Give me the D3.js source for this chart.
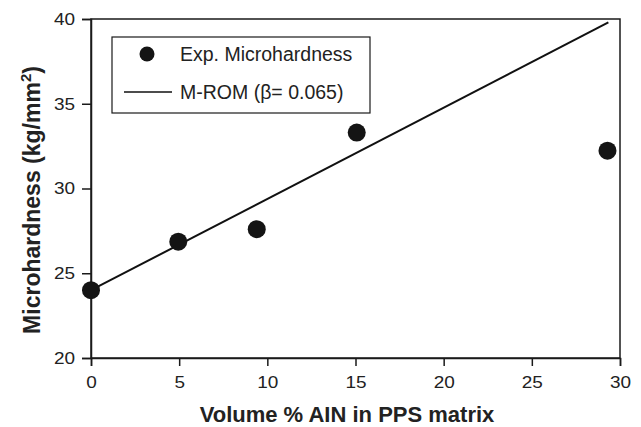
<!DOCTYPE html>
<html>
<head>
<meta charset="utf-8">
<script src="https://cdn.jsdelivr.net/npm/d3@7"></script>
<style>
  html, body { margin: 0; padding: 0; background: #fff; }
  svg { display: block; font-family: "Liberation Sans", Arial, Helvetica, sans-serif; }
</style>
</head>
<body>
<svg id="chart" width="641" height="427"></svg>
<script>
// Data
const volumePct = [0, 4.95, 9.4, 15.07, 29.29];
const microhardness = [24.0, 26.86, 27.6, 33.3, 32.23];
const mromX = [0, 29.34];
const mromY = [24.0, 39.8];
const xTicks = [0, 5, 10, 15, 20, 25, 30];
const yTicks = [20, 25, 30, 35, 40];
const legendLabels = ["Exp. Microhardness", "M-ROM (\u03B2= 0.065)"];

const svg = d3.select("#chart");
const mLeft = 91, mRight = 620, mTop = 19, mBottom = 358;
const x = d3.scaleLinear().domain([0, 30]).range([mLeft, mRight]);
const y = d3.scaleLinear().domain([20, 40]).range([mBottom, mTop]);
const ink = "#1a1a1a";
const sx = 1.15; // horizontal stretch of tick labels seen in the reference

// frame
svg.append("rect").attr("x", mLeft).attr("y", mTop)
  .attr("width", mRight - mLeft).attr("height", mBottom - mTop)
  .attr("fill", "none").attr("stroke", ink).attr("stroke-width", 1.5);

// axes
const xAxis = svg.append("g").attr("transform", `translate(0,${mBottom})`)
  .call(d3.axisBottom(x).tickValues(xTicks).tickSize(8).tickPadding(10).tickFormat(d3.format("d")));
const yAxis = svg.append("g").attr("transform", `translate(${mLeft},0)`)
  .call(d3.axisLeft(y).tickValues(yTicks).tickSize(9).tickPadding(7).tickFormat(d3.format("d")));
[xAxis, yAxis].forEach(g => {
  g.select(".domain").attr("stroke", ink).attr("stroke-width", 1.5);
  g.selectAll(".tick line").attr("stroke", ink).attr("stroke-width", 1.5);
  g.selectAll(".tick text").attr("fill", "#222").style("font-size", "16.5px")
    .style("font-family", "'Liberation Sans', Arial, sans-serif");
});
xAxis.selectAll(".tick text").attr("transform", `scale(${sx},1)`);
yAxis.selectAll(".tick text").each(function() {
  const t = d3.select(this);
  t.attr("x", +t.attr("x") / sx).attr("transform", `scale(${sx},1)`);
});

// M-ROM line
const line = d3.line().x(d => x(d[0])).y(d => y(d[1]));
svg.append("path").datum(mromX.map((v, i) => [v, mromY[i]]))
  .attr("d", line).attr("fill", "none").attr("stroke", "#111").attr("stroke-width", 2);

// points
svg.selectAll("circle.pt").data(volumePct.map((v, i) => [v, microhardness[i]]))
  .enter().append("circle").attr("class", "pt")
  .attr("cx", d => x(d[0])).attr("cy", d => y(d[1])).attr("r", 9).attr("fill", "#141414");

// legend
const lg = svg.append("g");
lg.append("rect").attr("x", 112).attr("y", 37).attr("width", 258).attr("height", 76)
  .attr("fill", "#fff").attr("stroke", ink).attr("stroke-width", 1.2);
lg.append("circle").attr("cx", 147).attr("cy", 54).attr("r", 7.5).attr("fill", "#141414");
lg.append("line").attr("x1", 124).attr("x2", 172).attr("y1", 92).attr("y2", 92)
  .attr("stroke", "#111").attr("stroke-width", 1.5);
lg.append("text").attr("x", 180).attr("y", 60.5).text(legendLabels[0])
  .attr("fill", "#222").style("font-size", "19.5px");
lg.append("text").attr("x", 180).attr("y", 98.5).text(legendLabels[1])
  .attr("fill", "#222").style("font-size", "19.5px");

// axis titles
svg.append("text").attr("x", 347).attr("y", 422).attr("text-anchor", "middle")
  .style("font-size", "22px").style("font-weight", "bold").attr("fill", "#222")
  .text("Volume % AIN in PPS matrix");

const yt = svg.append("text").attr("transform", "translate(40,200) rotate(-90)")
  .attr("text-anchor", "middle").style("font-size", "23px").style("font-weight", "bold").attr("fill", "#222");
yt.append("tspan").text("Microhardness (kg/mm");
yt.append("tspan").text("2").attr("dy", -9).style("font-size", "15px");
yt.append("tspan").text(")").attr("dy", 9);
</script>
</body>
</html>
